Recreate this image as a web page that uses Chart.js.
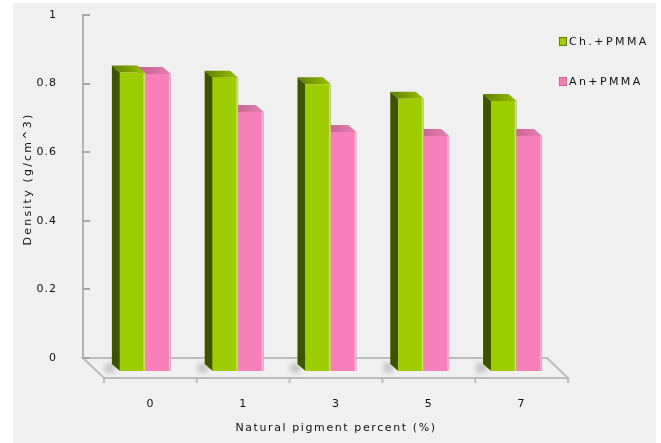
<!DOCTYPE html>
<html>
<head>
<meta charset="utf-8">
<script src="https://cdn.jsdelivr.net/npm/chart.js@4.4.1/dist/chart.umd.min.js"></script>
<style>
  html, body { margin: 0; padding: 0; background: #ffffff; }
  #wrap { width: 661px; height: 443px; }
</style>
</head>
<body>
<div id="wrap"><canvas id="c" width="661" height="443"></canvas></div>
<script>
// Density of PMMA films with natural pigments
const categories = ['0', '1', '3', '5', '7'];
const chValues = [0.870, 0.855, 0.836, 0.794, 0.787];
const anValues = [0.866, 0.755, 0.697, 0.685, 0.685];
const seriesNames = ['Ch.+PMMA', 'An+PMMA'];
const yTickValues = [0, 0.2, 0.4, 0.6, 0.8, 1];
const xTitle = 'Natural pigment percent (%)';
const yTitle = 'Density (g/cm^3)';

// face colours for the pseudo-3D columns
const palette = [
  { front: '#9dcd00', side: '#3d5300', topA: '#5f7d00', topB: '#98c400', hi: '#c6ea5a' },
  { front: '#f77fba', side: '#b84c82', topA: '#c25e90', topB: '#e681b4', hi: '#fbb3d5' }
];

const FONT = '"DejaVu Sans", Verdana, sans-serif';
const BAR_SHIFT = { x: 16, y: 13 };   // bars stand partway into the floor
const DEPTH = { x: 8, y: 7 };         // column depth (recedes up-left)
const FLOOR = { x: 21, y: 20 };       // floor depth

const threeD = {
  id: 'threeD',
  beforeDraw(chart) {
    const ctx = chart.ctx;
    ctx.save();
    ctx.fillStyle = '#f0f0f0';
    ctx.fillRect(13, 3, 643, 440);
    ctx.restore();
    ctx.letterSpacing = '1px';
  },
  beforeDatasetsDraw(chart) {
    const ctx = chart.ctx;
    const a = chart.chartArea;
    const L = a.left, R = a.right, B = a.bottom;

    // floor outline
    ctx.save();
    ctx.strokeStyle = '#bcbcbc';
    ctx.lineWidth = 2;
    ctx.beginPath();
    ctx.moveTo(L, B);
    ctx.lineTo(R, B);
    ctx.lineTo(R + FLOOR.x, B + FLOOR.y);
    ctx.lineTo(L + FLOOR.x, B + FLOOR.y);
    ctx.closePath();
    ctx.stroke();
    const n = categories.length;
    for (let i = 0; i <= n; i++) {
      const x = L + FLOOR.x + i * (R - L) / n;
      ctx.beginPath();
      ctx.moveTo(x, B + FLOOR.y);
      ctx.lineTo(x, B + FLOOR.y + 5);
      ctx.stroke();
    }
    // wall tick marks on the value axis
    const ys = chart.scales.y;
    ctx.strokeStyle = '#a8a8a8';
    yTickValues.forEach(v => {
      const y = Math.round(ys.getPixelForValue(v));
      ctx.beginPath();
      ctx.moveTo(L - 1, y);
      ctx.lineTo(L + 7, y);
      ctx.stroke();
    });
    ctx.restore();

    // columns: shadow, side and top faces; fronts are drawn by Chart.js
    ctx.save();
    ctx.translate(BAR_SHIFT.x, BAR_SHIFT.y);
    const metas = chart.data.datasets.map((d, i) => chart.getDatasetMeta(i));
    for (let i = 0; i < n; i++) {
      const el0 = metas[0].data[i];
      const l0 = el0.x - el0.width / 2;
      ctx.save();
      ctx.filter = 'blur(2px)';
      ctx.fillStyle = 'rgba(0,0,0,0.16)';
      ctx.fillRect(l0 - DEPTH.x - 7, el0.base - DEPTH.y - 1, 10, DEPTH.y + 3);
      ctx.restore();
      for (let d = metas.length - 1; d >= 0; d--) {
        const el = metas[d].data[i];
        const c = palette[d];
        const left = el.x - el.width / 2, right = el.x + el.width / 2;
        const top = el.y, base = el.base;
        ctx.fillStyle = c.side;
        ctx.beginPath();
        ctx.moveTo(left, top);
        ctx.lineTo(left - DEPTH.x, top - DEPTH.y);
        ctx.lineTo(left - DEPTH.x, base - DEPTH.y);
        ctx.lineTo(left, base);
        ctx.closePath();
        ctx.fill();
        const g = ctx.createLinearGradient(left - DEPTH.x, 0, right, 0);
        g.addColorStop(0, c.topA);
        g.addColorStop(1, c.topB);
        ctx.fillStyle = g;
        ctx.beginPath();
        ctx.moveTo(left, top);
        ctx.lineTo(right, top);
        ctx.lineTo(right - DEPTH.x, top - DEPTH.y);
        ctx.lineTo(left - DEPTH.x, top - DEPTH.y);
        ctx.closePath();
        ctx.fill();
      }
    }
  },
  afterDatasetsDraw(chart) {
    const ctx = chart.ctx;
    // thin highlight on the right edge of each front face
    chart.data.datasets.forEach((ds, d) => {
      chart.getDatasetMeta(d).data.forEach(el => {
        const right = el.x + el.width / 2;
        ctx.fillStyle = palette[d].hi;
        ctx.fillRect(right - 2, el.y, 1.5, el.base - el.y);
      });
    });
    ctx.restore();
  },
  afterDraw(chart) {
    const ctx = chart.ctx;
    const a = chart.chartArea;
    ctx.save();
    ctx.letterSpacing = '1.6px';
    ctx.fillStyle = '#111111';
    ctx.font = '11px ' + FONT;
    ctx.textAlign = 'center';
    ctx.textBaseline = 'middle';
    ctx.fillText(xTitle, (a.left + a.right) / 2 + FLOOR.x, 428);
    ctx.save();
    ctx.translate(28, 179);
    ctx.rotate(-Math.PI / 2);
    ctx.letterSpacing = '2.2px';
    ctx.fillText(yTitle, 0, 0);
    ctx.restore();

    // legend
    ctx.textAlign = 'left';
    ctx.letterSpacing = '2.4px';
    ctx.font = '11px ' + FONT;
    chart.data.datasets.forEach((ds, d) => {
      const y = 41 + d * 40;
      ctx.fillStyle = palette[d].front;
      ctx.fillRect(559, y - 4, 8, 9);
      ctx.strokeStyle = palette[d].side;
      ctx.lineWidth = 0.6;
      ctx.strokeRect(559.5, y - 3.5, 7, 8);
      ctx.fillStyle = '#111111';
      ctx.fillText(ds.label, 569, y + 1);
    });
    ctx.restore();
  }
};

new Chart(document.getElementById('c'), {
  type: 'bar',
  data: {
    labels: categories,
    datasets: [
      { label: seriesNames[0], data: chValues, backgroundColor: palette[0].front, clip: false },
      { label: seriesNames[1], data: anValues, backgroundColor: palette[1].front, clip: false }
    ]
  },
  options: {
    responsive: false,
    animation: false,
    devicePixelRatio: 1,
    layout: { padding: { top: 15, right: 114, left: 0, bottom: 0 } },
    datasets: { bar: { categoryPercentage: 0.55, barPercentage: 1.0, borderWidth: 0 } },
    plugins: { legend: { display: false }, tooltip: { enabled: false } },
    scales: {
      x: {
        grid: { display: false },
        border: { display: false },
        ticks: { padding: 32, labelOffset: 21, color: '#111111', font: { family: FONT, size: 11 } },
        afterFit(scale) {
          scale.height = 85;
          scale.paddingLeft = 0;
          scale.paddingRight = 0;
        }
      },
      y: {
        min: 0,
        max: 1,
        grid: { display: false },
        border: { display: true, color: '#b4b4b4', width: 2 },
        afterBuildTicks(scale) { scale.ticks = yTickValues.map(v => ({ value: v })); },
        ticks: {
          padding: 18,
          color: '#111111',
          font: { family: FONT, size: 11 },
          callback: v => String(Math.round(v * 10) / 10)
        },
        afterFit(scale) {
          scale.width = 83;
          scale.paddingTop = 0;
          scale.paddingBottom = 0;
        }
      }
    }
  },
  plugins: [threeD]
});
</script>
</body>
</html>
